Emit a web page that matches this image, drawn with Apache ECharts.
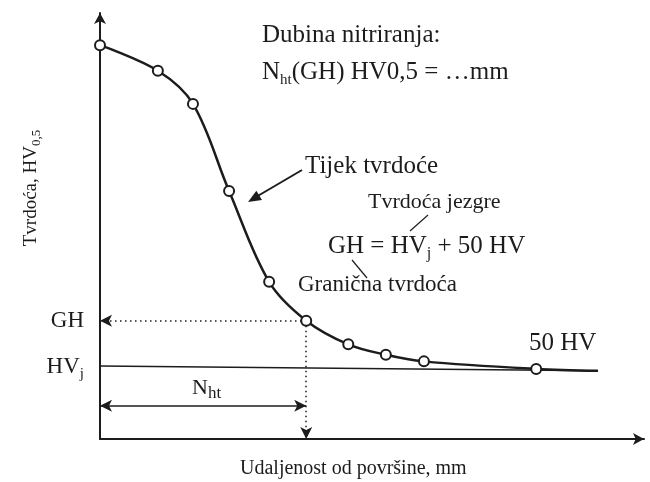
<!DOCTYPE html>
<html>
<head>
<meta charset="utf-8">
<style>
  html,body{margin:0;padding:0;background:#fff;}
  #main{width:650px;height:482px;}
</style>
</head>
<body>
<div id="main"></div>
<script src="https://cdn.jsdelivr.net/npm/echarts@6/dist/echarts.min.js"></script>
<script>
// udaljenost od površine (mm) i tvrdoća (HV), očitano sa slike
var distMm   = [0, 0.117, 0.188, 0.261, 0.342, 0.417, 0.502, 0.578, 0.655, 0.882, 1.007];
var hardness = [616, 589, 554, 462, 366, 325, 300, 289, 282, 274, 272];
var coreDist = [0, 1.007];
var coreHv   = [277, 272];          // linija HVj
var hvCore = 276, gh = 325;          // oznake na osi y
var nhtDepth = 0.417, nhtLevel = 235;
var yTickValues = [hvCore, gh];
var yTickLabels = ['{m|HV}{s|j}', '{m|GH}'];

var ink = '#1c1c1c';
var serif = '"Liberation Serif", "DejaVu Serif", serif';

var curve = distMm.map(function (d, i) {
    var item = { value: [d, hardness[i]] };
    if (i === distMm.length - 1) item.symbol = 'none';
    return item;
});
var core = coreDist.map(function (d, i) { return [d, coreHv[i]]; });

function subStyle(size, subSize, key) {
    var c = key || 'fill';
    var m = { fontSize: size, fontFamily: serif, lineHeight: size + 6 };
    var s = { fontSize: subSize, fontFamily: serif, lineHeight: subSize, verticalAlign: 'bottom' };
    m[c] = ink; s[c] = ink;
    return { m: m, s: s };
}

function txt(x, y, text, size, extra) {
    var style = { text: text, fontSize: size, fontFamily: serif, fill: ink, verticalAlign: 'middle' };
    if (extra) for (var k in extra) style[k] = extra[k];
    return { type: 'text', x: x, y: y, style: style, silent: true };
}

function leader(x1, y1, x2, y2, w) {
    return { type: 'line', shape: { x1: x1, y1: y1, x2: x2, y2: y2 }, style: { stroke: ink, lineWidth: w }, silent: true };
}

function arrowHead(fx, fy, tx, ty, len, half) {
    var dx = tx - fx, dy = ty - fy, l = Math.sqrt(dx * dx + dy * dy);
    var ux = dx / l, uy = dy / l;
    var bx = tx - ux * len, by = ty - uy * len;
    return { type: 'polygon', shape: { points: [[tx, ty], [bx - uy * half, by + ux * half], [bx + uy * half, by - ux * half]] },
             style: { fill: ink }, silent: true };
}

var dotted = { color: ink, width: 1.5, type: [1.5, 3.5] };
var solid = { color: ink, width: 1.5, type: 'solid' };

var myChart = echarts.init(document.getElementById('main'));
var option = {
    animation: false,
    backgroundColor: '#fff',
    grid: { left: 100, right: 6, top: 13, bottom: 43 },
    xAxis: {
        type: 'value', min: 0, max: 1.1,
        axisLine: { onZero: false, symbol: ['none', 'arrow'], symbolSize: [9, 11], lineStyle: { color: ink, width: 2 } },
        axisTick: { show: false }, axisLabel: { show: false }, splitLine: { show: false }
    },
    yAxis: {
        type: 'value', min: 200, max: 650,
        axisLine: { onZero: false, symbol: ['none', 'arrow'], symbolSize: [9, 11], lineStyle: { color: ink, width: 2 } },
        axisTick: { show: false }, splitLine: { show: false },
        axisLabel: {
            customValues: yTickValues,
            margin: 16,
            formatter: function (v) { return yTickLabels[yTickValues.indexOf(v)]; },
            rich: subStyle(23, 15, 'color')
        }
    },
    series: [
        {
            type: 'line', data: core, symbol: 'none', z: 1, silent: true,
            lineStyle: { color: ink, width: 1.5 },
            markLine: {
                silent: true, animation: false, z: 2, label: { show: false }, emphasis: { disabled: true },
                symbolSize: [9, 12],
                data: [
                    [{ coord: [0, gh], symbol: 'arrow', lineStyle: dotted },
                     { coord: [nhtDepth, gh], symbol: 'none', lineStyle: dotted }],
                    [{ coord: [nhtDepth, gh], symbol: 'none', lineStyle: dotted },
                     { coord: [nhtDepth, 200], symbol: 'arrow', lineStyle: dotted }],
                    [{ coord: [0, nhtLevel], symbol: 'arrow', lineStyle: solid },
                     { coord: [nhtDepth, nhtLevel], symbol: 'arrow', lineStyle: solid }]
                ]
            }
        },
        {
            type: 'line', data: curve, smooth: 0.35, z: 3, silent: true,
            symbol: 'circle', symbolSize: 10, showAllSymbol: true,
            itemStyle: { color: '#fff', borderColor: ink, borderWidth: 2 },
            lineStyle: { color: ink, width: 2.5 }
        }
    ],
    graphic: [
        txt(262, 35, 'Dubina nitriranja:', 25),
        txt(262, 72, '{m|N}{s|ht}{m|(GH) HV0,5 = …mm}', 25, { rich: subStyle(25, 15) }),
        txt(305, 166, 'Tijek tvrdoće', 25),
        leader(302, 170, 256, 197, 2),
        arrowHead(302, 170, 248, 202, 13, 5.5),
        txt(368, 202, 'Tvrdoća jezgre', 22),
        leader(428, 215, 410, 231, 1.2),
        txt(328, 246, '{m|GH = HV}{s|j}{m| + 50 HV}', 25, { rich: subStyle(25, 16) }),
        leader(352, 260, 367, 278, 1.2),
        txt(298, 285, 'Granična tvrdoća', 23),
        txt(529, 343, '50 HV', 25),
        txt(192, 388, '{m|N}{s|ht}', 22, { rich: subStyle(22, 17) }),
        txt(240, 469, 'Udaljenost od površine, mm', 20),
        {
            type: 'text', x: 31, y: 188, rotation: Math.PI / 2, silent: true,
            style: {
                text: '{m|Tvrdoća, HV}{s|0,5}', align: 'center', verticalAlign: 'middle',
                rich: subStyle(19, 13)
            }
        }
    ]
};
myChart.setOption(option);
</script>
</body>
</html>
